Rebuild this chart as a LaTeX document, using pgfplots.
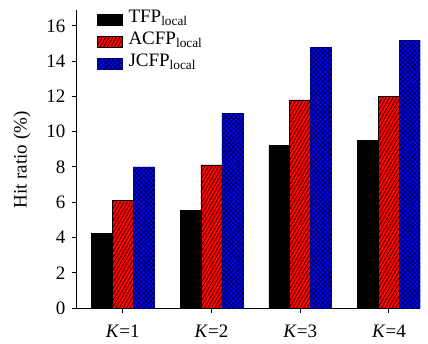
\documentclass[border=0pt]{standalone}
\usepackage{fontspec}
\setmainfont{Liberation Serif}
\usepackage{pgfplots}
\pgfplotsset{compat=1.18}
\usetikzlibrary{patterns.meta}
\begin{document}
\fontsize{14.25pt}{17pt}\selectfont
\begin{tikzpicture}
\useasboundingbox (-57.75pt,-26.25pt) rectangle (263.25pt,231pt);
\begin{axis}[
  at={(0,0)}, anchor=south west,
  scale only axis, width=257.25pt, height=223.5pt,
  axis x line*=bottom, axis y line*=left,
  axis line style={line width=0.75pt},
  xmin=-0.515, xmax=3.35, ymin=0, ymax=16.9,
  ybar=0pt, bar width=0.236,
  xtick=data, xticklabels={\textit{K}=1,\textit{K}=2,\textit{K}=3,\textit{K}=4},
  xticklabel style={yshift=-4pt},
  ytick={0,2,...,16},
  tick align=outside, major tick length=3.75pt,
  tick style={line width=0.75pt, black},
  /pgf/number format/assume math mode=true,
  every axis y label/.style={at={(axis description cs:-0.16,0.497)}, anchor=center, rotate=90},
  ylabel={Hit ratio (\%)},
  legend style={draw=none, fill=none, inner sep=0pt, outer sep=0pt,
    at={(axis description cs:0.0583,0.893)}, anchor=west, xshift=0pt,
    nodes={inner sep=0pt, text height=10pt, text depth=6.5pt},
    column sep=4.5pt, cells={anchor=west}},
  legend image code/.code={\draw[#1] (0pt,-4.125pt) rectangle (18.75pt,4.125pt);},
]
\addplot[fill=black, draw=black] coordinates {(0,4.22) (1,5.53) (2,9.21) (3,9.49)};
\addplot[fill=red, draw=black, line width=0.4pt, postaction={pattern={Lines[angle=60,distance=2.3pt,line width=0.4pt]}, pattern color=black}] coordinates {(0,6.1) (1,8.11) (2,11.8) (3,12.0)};
\addplot[fill=blue, draw=blue!50!black, line width=0.4pt, postaction={pattern={Hatch[angle=45,distance=2.5pt,line width=0.35pt]}, pattern color=black}] coordinates {(0,8.0) (1,11.03) (2,14.8) (3,15.18)};
\legend{TFP\textsubscript{local},ACFP\textsubscript{local},JCFP\textsubscript{local}}
\end{axis}
\end{tikzpicture}
\end{document}
